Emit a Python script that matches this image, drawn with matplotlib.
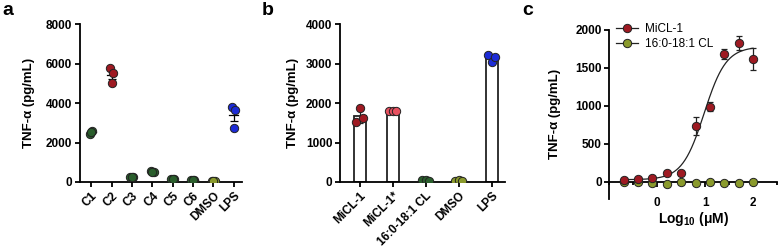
import numpy as np
import matplotlib
matplotlib.use("Agg")
import matplotlib.pyplot as plt
from matplotlib.ticker import MultipleLocator

plt.rcParams['font.family'] = ['Liberation Sans', 'DejaVu Sans']
plt.rcParams['font.weight'] = 'bold'
plt.rcParams['mathtext.fontset'] = 'custom'
plt.rcParams['mathtext.rm'] = 'Liberation Sans:bold'
plt.rcParams['mathtext.bf'] = 'Liberation Sans:bold'
plt.rcParams['mathtext.default'] = 'bf'

# ---------------- data ----------------
# Panel a
a_categories = ['C1', 'C2', 'C3', 'C4', 'C5', 'C6', 'DMSO', 'LPS']
a_values = [
    [2450, 2600, 2550],
    [5750, 5500, 5000],
    [250, 270, 260],
    [550, 500, 520],
    [150, 160, 140],
    [100, 90, 110],
    [60, 50, 70],
    [3800, 3650, 2750],
]
a_colors = ['#2a5e2c', '#9e1a22', '#2a5e2c', '#2a5e2c', '#2a5e2c', '#2a5e2c', '#8a9a2c', '#1c2bd6']
a_jitter = [-0.08, 0.06, 0.0]

# Panel b
b_categories = ['MiCL-1', 'MiCL-1*', '16:0-18:1 CL', 'DMSO', 'LPS']
b_values = [
    [1520, 1880, 1620],
    [1810, 1810, 1805],
    [40, 50, 35],
    [30, 40, 30],
    [3210, 3050, 3160],
]
b_colors = ['#9e1a22', '#e8505f', '#2a5e2c', '#8a9a2c', '#1c2bd6']
b_jitter = [-0.11, 0.0, 0.11]

# Panel c
c_logconc = [-0.7, -0.4, -0.1, 0.2, 0.5, 0.8, 1.1, 1.4, 1.7, 2.0]
c_micl = [26, 35, 48, 114, 123, 737, 991, 1684, 1833, 1618]
c_micl_err = [15, 15, 15, 15, 15, 115, 60, 60, 90, 150]
c_cl = [0, 0, -10, -30, 0, -10, -5, -15, -10, -5]
# four-parameter logistic fit of MiCL-1
fit_bottom, fit_top, fit_logec50, fit_hill = 30, 1780, 0.98, 1.9

# ---------------- figure ----------------
fig = plt.figure(figsize=(7.78, 2.49), dpi=100)

LW = 1.3
tick_fs = 8.5
label_fs = 9.5


def style_axes(ax):
    for s in ['top', 'right']:
        ax.spines[s].set_visible(False)
    for s in ['left', 'bottom']:
        ax.spines[s].set_linewidth(LW)
    ax.tick_params(axis='both', width=LW, length=3.5, labelsize=tick_fs, pad=2)
    for lab in ax.get_xticklabels() + ax.get_yticklabels():
        lab.set_fontweight('bold')


# Panel a
axa = fig.add_axes([80 / 778, 1 - 182 / 249, (242 - 80) / 778, (182 - 24) / 249])
for i, (vals, col) in enumerate(zip(a_values, a_colors)):
    vals = np.array(vals, dtype=float)
    xs = i + np.array(a_jitter)
    m = vals.mean()
    sem = vals.std(ddof=1) / np.sqrt(len(vals))
    axa.errorbar(i, m, yerr=sem, fmt='none', ecolor='black', elinewidth=0.9,
                 capsize=3, capthick=0.9, zorder=2)
    axa.plot([i - 0.22, i + 0.22], [m, m], color='black', lw=0.9, zorder=2)
    axa.scatter(xs, vals, s=36, c=col, edgecolors='#222222', linewidths=0.7, zorder=3)
axa.set_xlim(-0.55, 7.4)
axa.set_ylim(0, 8000)
axa.set_yticks([0, 2000, 4000, 6000, 8000])
axa.set_xticks(range(len(a_categories)))
axa.set_xticklabels(a_categories, rotation=45, ha='right', rotation_mode='anchor')
axa.set_ylabel('TNF-α (pg/mL)', fontsize=label_fs, fontweight='bold', labelpad=8)
style_axes(axa)

# Panel b
axb = fig.add_axes([340 / 778, 1 - 182 / 249, (505 - 340) / 778, (182 - 24) / 249])
for i, (vals, col) in enumerate(zip(b_values, b_colors)):
    vals = np.array(vals, dtype=float)
    m = vals.mean()
    sd = vals.std(ddof=1)
    axb.bar(i, m, width=0.36, color='white', edgecolor='#222222', linewidth=LW, zorder=1)
    axb.errorbar(i, m, yerr=sd, fmt='none', ecolor='#222222', elinewidth=0.9,
                 capsize=2.5, capthick=0.9, zorder=2)
    axb.scatter(i + np.array(b_jitter), vals, s=36, c=col, edgecolors='#222222',
                linewidths=0.7, zorder=3)
axb.set_xlim(-0.6, 4.4)
axb.set_ylim(0, 4000)
axb.set_yticks([0, 1000, 2000, 3000, 4000])
axb.set_xticks(range(len(b_categories)))
axb.set_xticklabels(b_categories, rotation=45, ha='right', rotation_mode='anchor')
axb.set_ylabel('TNF-α (pg/mL)', fontsize=label_fs, fontweight='bold', labelpad=5)
style_axes(axb)

# Panel c
axc = fig.add_axes([609.3 / 778, 1 - 198.7 / 249, (777 - 609.3) / 778, (198.7 - 30) / 249])
xfit = np.linspace(min(c_logconc), max(c_logconc), 300)
yfit = fit_bottom + (fit_top - fit_bottom) / (1 + 10 ** ((fit_logec50 - xfit) * fit_hill))
axc.plot(xfit, yfit, color='#222222', lw=0.9, zorder=2)
axc.errorbar(c_logconc, c_micl, yerr=c_micl_err, fmt='none', ecolor='#222222',
             elinewidth=0.9, capsize=2.5, capthick=0.9, zorder=2)
axc.plot(c_logconc, c_cl, 'o', color='#8a9a2c', mec='#222222', mew=0.7, ms=6, zorder=3)
axc.plot(c_logconc, c_micl, 'o', color='#9e1a22', mec='#222222', mew=0.7, ms=6, zorder=4)
# legend handles (marker with line)
h1, = axc.plot([], [], '-o', color='#222222', mfc='#9e1a22', mec='#222222', mew=0.7, ms=6, lw=0.9)
h2, = axc.plot([], [], '-o', color='#222222', mfc='#8a9a2c', mec='#222222', mew=0.7, ms=6, lw=0.9)
leg = axc.legend([h1, h2], ['MiCL-1', '16:0-18:1 CL'], loc='upper left',
                 bbox_to_anchor=(0.01, 1.07), frameon=False, fontsize=8.5,
                 handlelength=1.9, handletextpad=0.6, labelspacing=0.3, borderaxespad=0)
for t in leg.get_texts():
    t.set_fontweight('normal')
axc.set_xlim(-1, 2.5)
axc.set_ylim(-220, 2000)
axc.set_yticks([0, 500, 1000, 1500, 2000])
axc.set_xticks([0, 1, 2])
axc.xaxis.set_minor_locator(MultipleLocator(0.5))
axc.spines['bottom'].set_position(('data', 0))
axc.set_xlabel('Log$_{10}$ (μM)', fontsize=label_fs + 0.5, fontweight='bold', labelpad=1)
axc.set_ylabel('TNF-α (pg/mL)', fontsize=label_fs, fontweight='bold', labelpad=10)
style_axes(axc)
axc.tick_params(axis='x', which='major', pad=7)
axc.tick_params(axis='x', which='minor', width=LW, length=2.5)

# panel letters
fig.text(2 / 778, 1 - 2 / 249, 'a', fontsize=14, fontweight='bold', va='top', ha='left')
fig.text(262 / 778, 1 - 2 / 249, 'b', fontsize=14, fontweight='bold', va='top', ha='left')
fig.text(522 / 778, 1 - 2 / 249, 'c', fontsize=14, fontweight='bold', va='top', ha='left')

fig.savefig('out.png', dpi=100)
